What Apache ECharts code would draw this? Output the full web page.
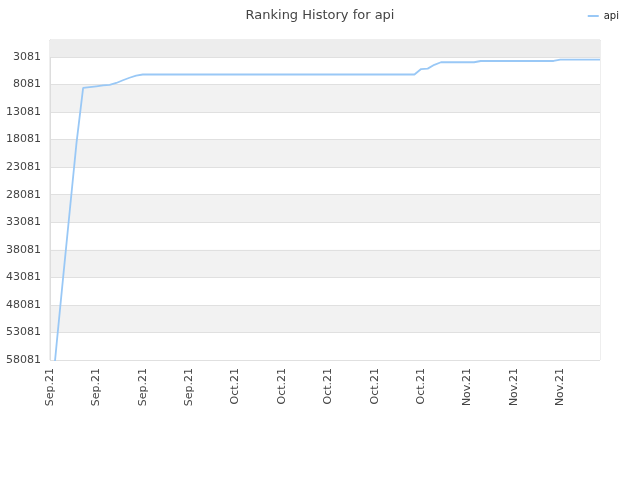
<!DOCTYPE html>
<html>
<head>
<meta charset="utf-8">
<script src="https://cdn.jsdelivr.net/npm/echarts@6/dist/echarts.min.js"></script>
<style>html,body{margin:0;padding:0;background:#fff}#c{width:640px;height:480px}</style>
</head>
<body>
<div id="c"></div>
<script>
var title = 'Ranking History for api';
var seriesName = 'api';
var startDate = '2021-09-04';
var yMin = 0;
var yMax = 58081;
var yTickLabels = [3081, 8081, 13081, 18081, 23081, 28081, 33081, 38081, 43081, 48081, 53081, 58081];
var ranks = [
  67800, 55150, 42870, 30770, 18670, 8700, 8550, 8400, 8250, 8150,
  7800, 7300, 6850, 6450, 6260, 6260, 6260, 6260, 6260, 6260,
  6260, 6260, 6260, 6260, 6260, 6260, 6260, 6260, 6260, 6260,
  6260, 6260, 6260, 6260, 6260, 6260, 6260, 6260, 6260, 6260,
  6260, 6260, 6260, 6260, 6260, 6260, 6260, 6260, 6260, 6260,
  6260, 6260, 6260, 6260, 6260, 6260, 5270, 5200, 4500, 4040,
  4040, 4040, 4040, 4040, 4040, 3810, 3810, 3810, 3810, 3810,
  3810, 3810, 3810, 3810, 3810, 3810, 3810, 3570, 3570, 3570,
  3570, 3570, 3570, 3570
];
var monthNames = ['Jan','Feb','Mar','Apr','May','Jun','Jul','Aug','Sep','Oct','Nov','Dec'];

var dates = [];
var d0 = new Date(startDate + 'T00:00:00Z');
for (var i = 0; i < ranks.length; i++) {
  var d = new Date(d0.getTime() + i * 86400000);
  dates.push(d.toISOString().slice(0, 10));
}

var chart = echarts.init(document.getElementById('c'), null, {renderer: 'canvas'});
chart.setOption({
  animation: false,
  title: {
    text: title, left: 'center', top: 4,
    textStyle: {fontFamily: 'DejaVu Sans', fontSize: 13, fontWeight: 'normal', color: '#444'}
  },
  legend: {
    data: [seriesName], right: 16, top: 6, itemWidth: 11, itemHeight: 2, itemGap: 10,
    icon: 'rect',
    textStyle: {fontFamily: 'DejaVu Sans', fontSize: 10, color: '#222'}
  },
  grid: {left: 50, right: 40, top: 40, bottom: 120, show: true, borderColor: '#dddddd', borderWidth: 1},
  xAxis: {
    type: 'category', data: dates, boundaryGap: false,
    axisLine: {lineStyle: {color: '#dddddd'}},
    axisTick: {show: false},
    splitLine: {show: false},
    axisLabel: {
      interval: 6, rotate: 90, color: '#444', fontFamily: 'DejaVu Sans', fontSize: 11, margin: 8,
      formatter: function (v) {
        var p = v.split('-');
        return monthNames[parseInt(p[1], 10) - 1] + '.' + p[0].slice(2);
      }
    }
  },
  yAxis: {
    type: 'value', inverse: true, min: yMin, max: yMax,
    axisLine: {show: true, lineStyle: {color: '#dddddd'}},
    axisTick: {show: false, customValues: [yMin].concat(yTickLabels)},
    splitLine: {show: true, lineStyle: {color: '#e0e0e0'}},
    splitArea: {show: true, areaStyle: {color: ['#f2f2f2', '#ffffff']}},
    axisLabel: {
      customValues: yTickLabels,
      color: '#444', fontFamily: 'DejaVu Sans', fontSize: 11, margin: 9,
      formatter: function (v) { return String(Math.round(v)); }
    }
  },
  series: [{
    name: seriesName, type: 'line', data: ranks, symbol: 'none', clip: true,
    lineStyle: {color: '#99c8f6', width: 1.8},
    itemStyle: {color: '#99c8f6'},
    markArea: {
      silent: true,
      itemStyle: {color: '#ededed'},
      data: [[{yAxis: yMin}, {yAxis: yTickLabels[0]}]]
    }
  }]
});
</script>
</body>
</html>
